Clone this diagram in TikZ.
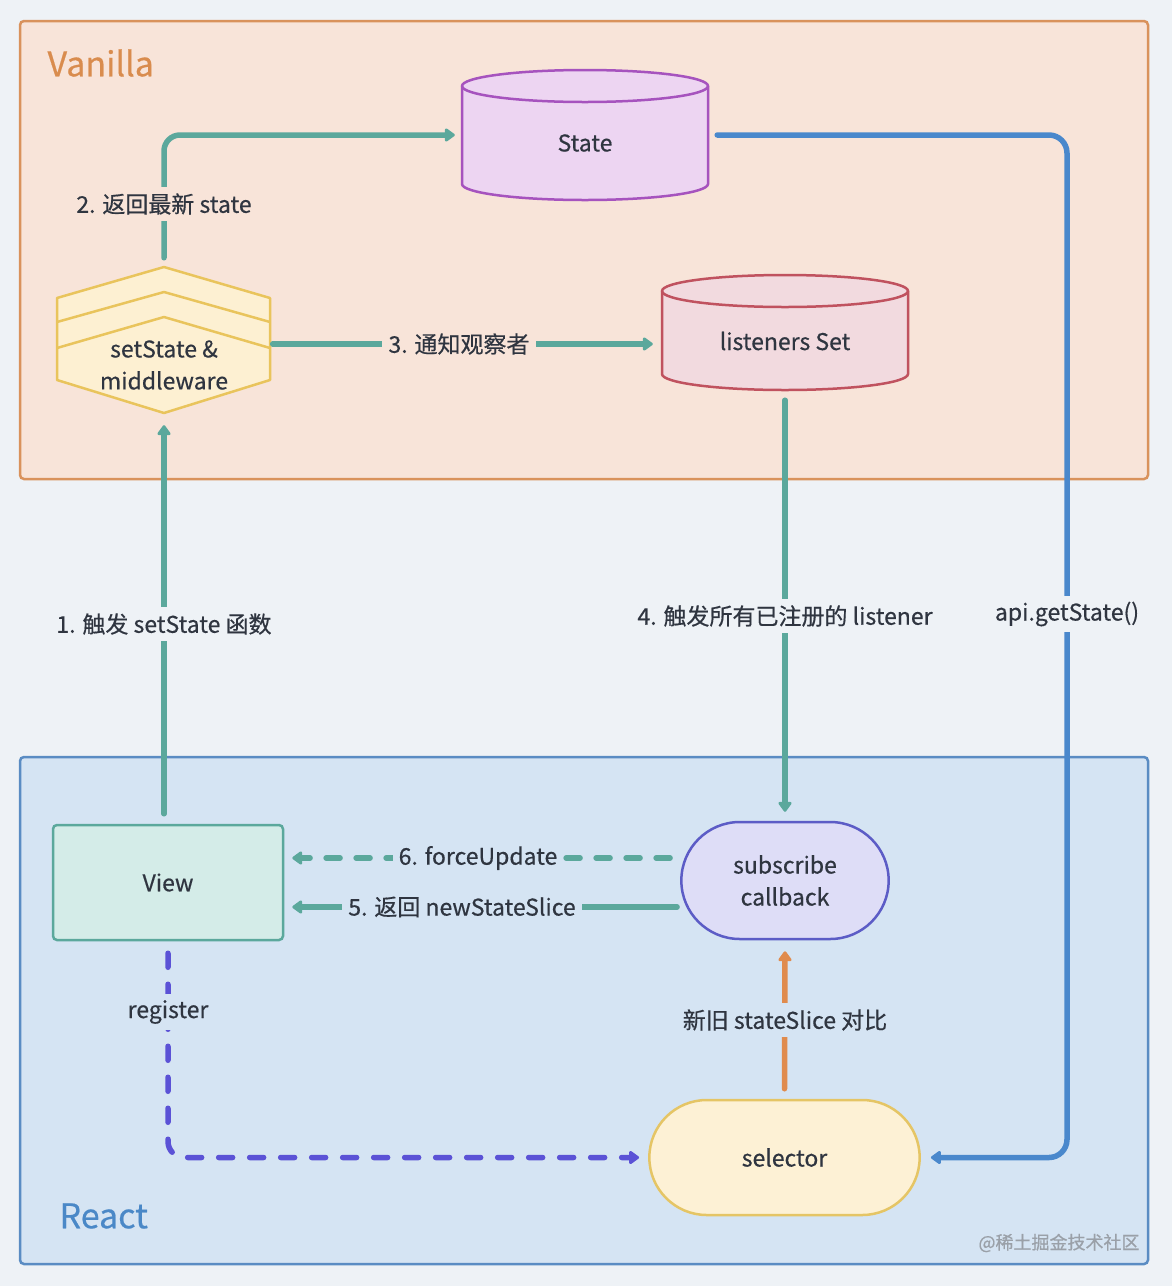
\documentclass[tikz,border=0pt]{standalone}
\usepackage{fontspec}
\setmainfont{Noto Sans CJK SC}[FakeBold=0.5]
\usetikzlibrary{arrows.meta,shapes.misc}
\definecolor{pagebg}{HTML}{EEF2F6}
\definecolor{vanfill}{HTML}{F8E4D9}
\definecolor{vanstroke}{HTML}{D9925C}
\definecolor{vantext}{HTML}{D98C4E}
\definecolor{reactfill}{HTML}{D5E4F3}
\definecolor{reactstroke}{HTML}{5A8CC3}
\definecolor{reacttext}{HTML}{4A88C7}
\definecolor{tealc}{HTML}{5BA89C}
\definecolor{bluec}{HTML}{4A88CC}
\definecolor{purplec}{HTML}{5B52D6}
\definecolor{orangec}{HTML}{E08B4D}
\definecolor{txt}{HTML}{2F3540}
\definecolor{statefill}{HTML}{EDD5F2}
\definecolor{statestroke}{HTML}{A653BE}
\definecolor{lisfill}{HTML}{F2DADF}
\definecolor{lisstroke}{HTML}{C0525F}
\definecolor{hexfill}{HTML}{FDF0D2}
\definecolor{hexstroke}{HTML}{E9C45C}
\definecolor{viewfill}{HTML}{D4ECE8}
\definecolor{subfill}{HTML}{DEDDF7}
\definecolor{substroke}{HTML}{5C5CC6}
\definecolor{selfill}{HTML}{FDF1D5}
\definecolor{selstroke}{HTML}{E5C565}
\definecolor{wmark}{HTML}{9AA0A8}
\begin{document}
\begin{tikzpicture}[x=1pt,y=1pt,
  every node/.style={text=txt, font=\fontsize{23}{32}\selectfont},
  conn/.style={line width=5.5pt, line cap=round, -{Triangle[round,length=11pt,width=15pt]}},
  lbl/.style={inner sep=6pt, align=center},
  shapebox/.style={line width=2.5pt},
]
\useasboundingbox (0,0) rectangle (1172,-1286);
\fill[pagebg] (0,0) rectangle (1172,-1286);
% containers
\draw[vanstroke, fill=vanfill, line width=2.5pt, rounded corners=4pt] (20,-21) rectangle (1148,-479);
\draw[reactstroke, fill=reactfill, line width=2.5pt, rounded corners=4pt] (20,-757) rectangle (1148,-1264);
\node[anchor=west, text=vantext, font=\fontsize{34}{40}\selectfont] (vanlabel) at (44,-63) {Vanilla};
\node[anchor=west, text=reacttext, font=\fontsize{34}{40}\selectfont] (reactlabel) at (56,-1216) {React};

% State cylinder
\draw[statestroke, fill=statefill, shapebox] (462,-86) -- (462,-184) arc (180:360:123 and 16) -- (708,-86) arc (0:180:123 and 16) -- cycle;
\draw[statestroke, shapebox] (462,-86) arc (180:360:123 and 16);
\node[minimum width=246pt, minimum height=114pt, inner sep=0pt] (state) at (585,-143) {State};

% listeners cylinder
\draw[lisstroke, fill=lisfill, shapebox] (662,-291) -- (662,-374) arc (180:360:123 and 16) -- (908,-291) arc (0:180:123 and 16) -- cycle;
\draw[lisstroke, shapebox] (662,-291) arc (180:360:123 and 16);
\node[minimum width=246pt, minimum height=98pt, inner sep=0pt] (listeners) at (785,-341) {listeners Set};

% setState & middleware stacked hexagon
\draw[hexstroke, fill=hexfill, shapebox, line join=round] (164,-267) -- (270,-298) -- (270,-380) -- (164,-413) -- (57,-380) -- (57,-298) -- cycle;
\draw[hexstroke, shapebox, line join=round] (57,-322) -- (164,-292) -- (270,-322);
\draw[hexstroke, shapebox, line join=round] (57,-348) -- (164,-317) -- (270,-348);
\node[minimum width=213pt, minimum height=146pt, inner sep=0pt, align=center] (mw) at (164,-340) {};
\node[align=center] (mwtext) at (164,-365) {setState \&\\middleware};

% View
\node[draw=tealc, fill=viewfill, shapebox, rounded corners=4pt, minimum width=230pt, minimum height=115pt] (view) at (168,-882.5) {View};

% subscribe callback
\node[rounded rectangle, draw=substroke, fill=subfill, shapebox, minimum width=214pt, minimum height=117pt, align=center] (sub) at (785,-880.5) {subscribe\\callback};

% selector
\node[rounded rectangle, draw=selstroke, fill=selfill, shapebox, minimum width=277pt, minimum height=115pt] (sel) at (784.5,-1157.5) {selector};

% connectors
\draw[conn, tealc] ([yshift=10]view.north -| 164,0) -- ([yshift=-12]mw.south);
\draw[conn, tealc, rounded corners=16pt] ([yshift=9]mw.north) |- ([xshift=-7,yshift=8]state.west);
\draw[conn, tealc] ([xshift=2,yshift=-4]mw.east) -- ([xshift=-9,yshift=-3]listeners.west);
\draw[conn, tealc] ([yshift=-10]listeners.south) -- ([yshift=9]sub.north);
\draw[conn, tealc] ([xshift=-3,yshift=-26.5]sub.west) -- ([xshift=8,yshift=-24.5]view.east);
\draw[conn, tealc, dash pattern=on 14pt off 16pt] ([xshift=-10,yshift=22.5]sub.west) -- ([xshift=8,yshift=24.5]view.east);
\draw[conn, purplec, dash pattern=on 14pt off 17pt, rounded corners=16pt] ([yshift=-12]view.south) |- ([xshift=-9]sel.west);
\draw[conn, orangec] ([yshift=10]sel.north) -- ([yshift=-11]sub.south);
\coordinate (bluetop) at (1067,-135);
\coordinate (bluebot) at (1067,-1157.5);
\draw[conn, bluec, rounded corners=18pt] ([xshift=9,yshift=8]state.east) -- (bluetop) -- (bluebot) -- ([xshift=10]sel.east);

% labels
\node[lbl, fill=pagebg] (l1) at (164,-624) {1. 触发 setState 函数};
\node[lbl, fill=vanfill] (l2) at (164,-204) {2. 返回最新 state};
\node[lbl, fill=vanfill] (l3) at (459,-344) {3. 通知观察者};
\node[lbl, fill=pagebg] (l4) at (785,-616) {4. 触发所有已注册的 listener};
\node[lbl, fill=pagebg] (lapi) at (1067,-614) {api.getState()};
\node[lbl, fill=reactfill] (l5) at (462,-907) {5. 返回 newStateSlice};
\node[lbl, fill=reactfill] (l6) at (478,-858) {6. forceUpdate};
\node[lbl, fill=reactfill] (lreg) at (168,-1012) {register};
\node[lbl, fill=reactfill] (lcmp) at (785,-1020) {新旧 stateSlice 对比};
\node[text=wmark, font=\fontsize{18}{20}\selectfont] (wm) at (1059,-1243) {@稀土掘金技术社区};
\end{tikzpicture}
\end{document}
